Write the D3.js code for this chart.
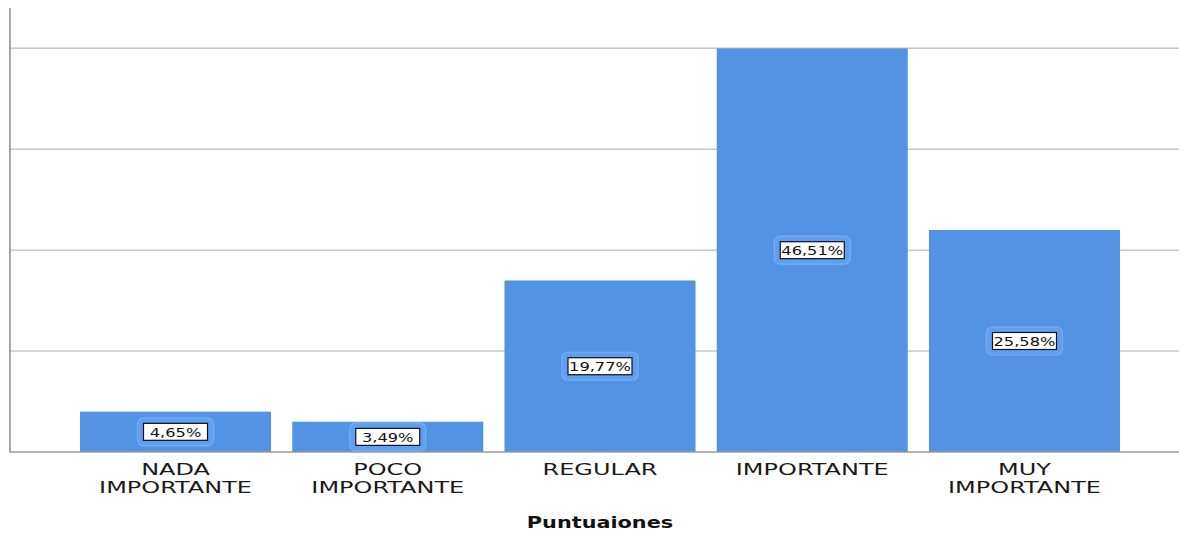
<!DOCTYPE html>
<html><head><meta charset="utf-8">
<script src="https://cdn.jsdelivr.net/npm/d3@7"></script>
<style>body{margin:0;background:#fff}svg{display:block}</style>
</head><body>
<svg id="c" width="1179" height="536"></svg>
<script>
const categories = [["NADA","IMPORTANTE"],["POCO","IMPORTANTE"],["REGULAR"],["IMPORTANTE"],["MUY","IMPORTANTE"]];
const counts = [4, 3, 17, 40, 22];
const percentLabels = ["4,65%","3,49%","19,77%","46,51%","25,58%"];
const yTicks = [10, 20, 30, 40];
const xTitle = "Puntuaiones";

const svg = d3.select("#c");
const SX = 1.5;
const keys = categories.map((c,i)=>i);
const x = d3.scaleBand().domain(keys).range([80, 1120]).paddingInner(0.1).paddingOuter(0);
const y = d3.scaleLinear().domain([0, 44]).range([452, 8]);

// gridlines
svg.append("g").selectAll("line").data(yTicks).join("line")
  .attr("x1", 10).attr("x2", 1179)
  .attr("y1", d=>y(d)).attr("y2", d=>y(d))
  .attr("stroke", "#c8c8c8").attr("stroke-width", 1.5);

// bars
svg.append("g").selectAll("rect").data(keys).join("rect")
  .attr("x", d=>x(d)).attr("width", x.bandwidth())
  .attr("y", d=>y(counts[d])).attr("height", d=>y(0)-y(counts[d]))
  .attr("fill", "#5294e3");

// axes lines
svg.append("line").attr("x1",10).attr("x2",10).attr("y1",8).attr("y2",452.5)
  .attr("stroke","#8a8a8a").attr("stroke-width",1.5);
svg.append("line").attr("x1",10).attr("x2",1179).attr("y1",452).attr("y2",452)
  .attr("stroke","#9a9a9a").attr("stroke-width",1.5);

// value labels
const lab = svg.append("g").selectAll("g").data(keys).join("g")
  .attr("transform", d=>`translate(${x(d)+x.bandwidth()/2},${(y(counts[d])+y(0))/2})`);
lab.append("rect").attr("x",-38).attr("y",-14).attr("width",76).attr("height",28).attr("rx",6)
  .attr("fill","#609ff0").attr("stroke","#74aef5").attr("stroke-width",1.2);
lab.append("rect").attr("x",-32).attr("y",-8.5).attr("width",64).attr("height",17)
  .attr("fill","#fff").attr("stroke","#111").attr("stroke-width",1.2);
lab.append("text").attr("transform",`scale(1.3,1)`).attr("y",4.8)
  .attr("text-anchor","middle").attr("font-family","DejaVu Sans").attr("font-size",12.5)
  .attr("fill","#111").text(d=>percentLabels[d]);

// x tick labels
const xl = svg.append("g").selectAll("g").data(keys).join("g")
  .attr("transform", d=>`translate(${x(d)+x.bandwidth()/2},475) scale(${SX},1)`);
xl.selectAll("text").data(d=>categories[d]).join("text")
  .attr("y",(d,i)=>i*18).attr("text-anchor","middle")
  .attr("font-family","DejaVu Sans").attr("font-size",16).attr("fill","#1a1a1a").text(d=>d);

// x title
svg.append("text").attr("transform",`translate(600,528) scale(1.3,1)`)
  .attr("text-anchor","middle").attr("font-family","DejaVu Sans").attr("font-weight","bold")
  .attr("font-size",16).attr("fill","#111").text(xTitle);
</script>
</body></html>
